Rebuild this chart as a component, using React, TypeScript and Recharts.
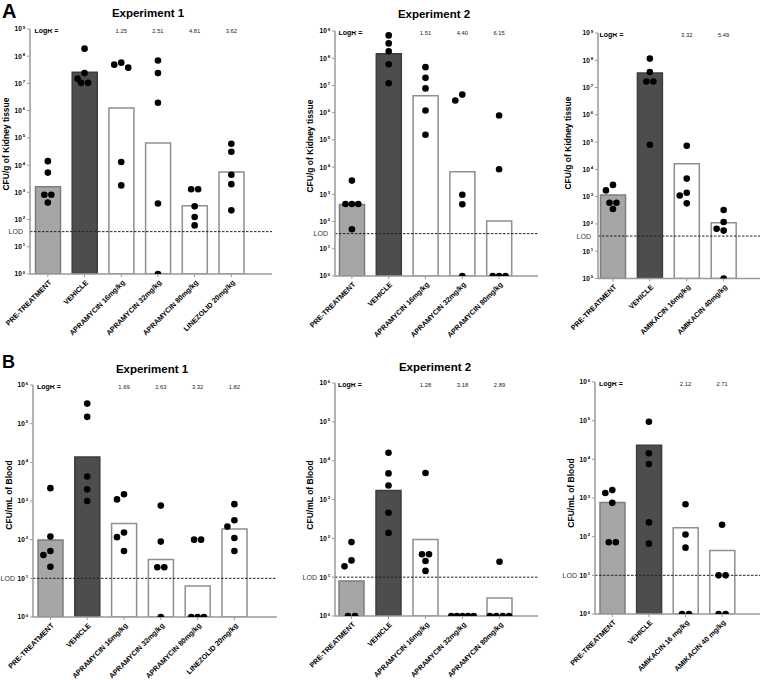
import React from 'react';
import { ComposedChart, Bar, Scatter, XAxis, YAxis, ReferenceLine, Cell } from 'recharts';

const FONT = '"Liberation Sans", Arial, Helvetica, sans-serif';

// tick labels (powers of ten)
const kidneyTicks = [1, 10, 100, 1e3, 1e4, 1e5, 1e6, 1e7, 1e8, 1e9];
const bloodTicks = [1, 10, 100, 1e3, 1e4, 1e5, 1e6];
const kidneyLod = 36;
const bloodLod = 10;

// categories
const exp1Groups = ['PRE-TREATMENT', 'VEHICLE', 'APRAMYCIN 16mg/kg', 'APRAMYCIN 32mg/kg', 'APRAMYCIN 80mg/kg', 'LINEZOLID 20mg/kg'];
const exp2Groups = ['PRE-TREATMENT', 'VEHICLE', 'APRAMYCIN 16mg/kg', 'APRAMYCIN 32mg/kg', 'APRAMYCIN 80mg/kg'];
const amiKidneyGroups = ['PRE-TREATMENT', 'VEHICLE', 'AMIKACIN 16mg/kg', 'AMIKACIN 40mg/kg'];
const amiBloodGroups = ['PRE-TREATMENT', 'VEHICLE', 'AMIKACIN 16 mg/kg', 'AMIKACIN 40 mg/kg'];

// A - kidney, experiment 1
const kidney1Bars = [1.6e3, 2.6e7, 1.25e6, 6.5e4, 3.2e2, 5.6e3];
const kidney1Points = [
  [1.4e4, 5.3e3, 820, 820, 420],
  [1.9e8, 2.4e7, 1.5e7, 1.05e7, 1.05e7],
  [5.8e7, 4.9e7, 3.8e7, 1.3e4, 1.8e3],
  [7e7, 2.4e7, 1.95e6, 390, 1],
  [1.3e3, 1.3e3, 305, 124, 61],
  [6.1e4, 3.1e4, 4.4e3, 2e3, 218],
];
const kidney1LogR = ['', '', '1.25', '2.51', '4.81', '3.62'];

// A - kidney, experiment 2
const kidney2Bars = [420, 1.46e8, 4.2e6, 6.8e3, 105];
const kidney2Points = [
  [3.2e3, 440, 440, 440, 52],
  [6.9e8, 3.5e8, 1.8e8, 6e7, 1.2e7],
  [4.7e7, 1.9e7, 7.8e6, 1.2e6, 1.55e5],
  [4.6e6, 2.8e6, 970, 430, 1],
  [7.9e5, 8.3e3, 1, 1, 1],
];
const kidney2LogR = ['', '', '1.51', '4.40', '6.15'];

// A - kidney, amikacin
const kidney3Bars = [1.15e3, 3.4e7, 1.6e4, 110];
const kidney3Points = [
  [2.7e3, 1.7e3, 600, 600, 355],
  [1.15e8, 3.7e7, 1.66e7, 1.66e7, 8e4],
  [7.4e4, 4.6e3, 1.4e3, 1.1e3, 570],
  [325, 118, 66, 57, 1],
];
const kidney3LogR = ['', '', '3.32', '5.49'];

// B - blood, experiment 1
const blood1Bars = [98, 1.37e4, 260, 30.6, 6.3, 190];
const blood1Points = [
  [2.15e3, 120, 51, 40, 20],
  [3.3e5, 1.5e5, 4.3e3, 2e3, 1e3],
  [1.5e3, 1.1e3, 153, 116, 51],
  [760, 89, 19.4, 19.4, 1],
  [100, 100, 1, 1, 1],
  [830, 318, 218, 110, 51],
];
const blood1LogR = ['', '', '1.69', '2.63', '3.32', '1.82'];

// B - blood, experiment 2
const blood2Bars = [8, 1.7e3, 93, null, 2.9];
const blood2Points = [
  [80, 27, 19, 1, 1],
  [1.6e4, 4.7e3, 2.3e3, 455, 138],
  [4.8e3, 39, 39, 26, 14.5],
  [1, 1, 1, 1, 1],
  [25, 1, 1, 1, 1],
];
const blood2LogR = ['', '', '1.28', '3.18', '2.89'];

// B - blood, amikacin
const blood3Bars = [765, 2.3e4, 170, 44];
const blood3Points = [
  [1.6e3, 1.35e3, 750, 72, 72],
  [9.4e4, 1.43e4, 7.6e3, 234, 66],
  [690, 114, 52, 1, 1],
  [203, 10, 10, 1, 1],
];
const blood3LogR = ['', '', '2.12', '2.71'];

type Box = {
  left: number; top: number; width: number; height: number;
  axisX: number; bandStart: number; spacing: number; axisEnd: number;
  plotTop: number; plotBottom: number; lodOffset: number;
};

// place dots of one group side by side where they would overlap
function spread(points: number[][], pxPerDecade: number, pxPerCat: number) {
  const out: { x: number; y: number }[] = [];
  points.forEach((vals, ci) => {
    const sorted = [...vals].sort((a, b) => b - a);
    const placed: { dx: number; py: number }[] = [];
    let i = 0;
    while (i < sorted.length) {
      let j = i;
      while (j + 1 < sorted.length && Math.abs(Math.log10(sorted[j + 1]) - Math.log10(sorted[i])) < 0.03) j++;
      const m = j - i + 1;
      const py = Math.log10(sorted[i]) * pxPerDecade;
      if (m > 1) {
        const gap = m <= 2 ? 7 : m <= 4 ? 6.4 : 5.6;
        for (let k = 0; k < m; k++) {
          const dx = (k - (m - 1) / 2) * gap;
          placed.push({ dx, py });
          out.push({ x: ci + dx / pxPerCat, y: sorted[i + k] });
        }
      } else {
        const tries = [0, -7, 7, -14, 14];
        let dx = 0;
        for (const t of tries) {
          if (placed.every((p) => Math.hypot(p.dx - t, p.py - py) >= 7)) { dx = t; break; }
        }
        placed.push({ dx, py });
        out.push({ x: ci + dx / pxPerCat, y: sorted[i] });
      }
      i = j + 1;
    }
  });
  return out;
}

const barFill = (i: number) => (i === 0 ? '#a6a6a6' : i === 1 ? '#4d4d4d' : '#ffffff');
const barStroke = (i: number) => (i === 0 ? '#7d7d7d' : i === 1 ? '#3c3c3c' : '#8f8f8f');

const YTick = (props: any) => {
  const { x, y, payload } = props;
  const e = Math.round(Math.log10(payload.value));
  return (
    <text x={x} y={y + 2.4} textAnchor="end" fontSize={6.5} fontWeight="bold" fill="#000" fontFamily={FONT}>
      10<tspan dx={0.8} dy={-2.8} fontSize={4.2}>{e}</tspan>
    </text>
  );
};

const XTick = (props: any) => {
  const { x, y, payload } = props;
  return (
    <g transform={`translate(${x + 4},${y + 4}) rotate(-45)`}>
      <text x={0} y={0} textAnchor="end" fontSize={7.2} fontWeight="bold" fill="#000" fontFamily={FONT}>
        {payload.value}
      </text>
    </g>
  );
};

type PanelProps = {
  groups: string[]; bars: (number | null)[]; points: number[][]; logR: string[];
  ticks: number[]; lod: number; box: Box;
};

function Panel({ groups, bars, points, logR, ticks, lod, box }: PanelProps) {
  const n = groups.length;
  const yW = 20;
  const top = ticks[ticks.length - 1];
  const margin = {
    top: box.plotTop - box.top,
    right: box.left + box.width - box.axisEnd,
    bottom: 0,
    left: box.axisX - box.left - yW,
  };
  const padding = { left: box.bandStart - box.axisX, right: box.axisEnd - box.bandStart - n * box.spacing };
  const pxPerDecade = (box.plotBottom - box.plotTop) / (ticks.length - 1);
  const data = groups.map((name, i) => ({ name, value: bars[i] }));
  const dots = spread(points, pxPerDecade, box.spacing);
  const logRRow = logR.map((text, i) => ({ x: i, y: top, text }));

  const logRShape = (p: any) => {
    const d = p.payload;
    if (d.x === 0) {
      return (
        <text x={p.cx - box.spacing / 2 + 5} y={p.cy + 3.5} fontSize={7} fontWeight="bold" fill="#000" fontFamily={FONT}>
          LogR =
        </text>
      );
    }
    return (
      <text x={p.cx} y={p.cy + 3.5} textAnchor="middle" fontSize={5.8} fill="#222" fontFamily={FONT}>
        {d.text}
      </text>
    );
  };

  return (
    <div style={{ position: 'absolute', left: box.left, top: box.top }}>
      <ComposedChart width={box.width} height={box.height} data={data} margin={margin}>
        <XAxis
          xAxisId="c" dataKey="name" type="category" interval={0}
          height={box.top + box.height - box.plotBottom} padding={padding}
          axisLine={{ stroke: '#9a9a9a', strokeWidth: 1.5 }}
          tickLine={{ stroke: '#9a9a9a' }} tickSize={3} tickMargin={2}
          tick={<XTick />}
        />
        <XAxis xAxisId="n" type="number" dataKey="x" domain={[-0.5, n - 0.5]} hide allowDataOverflow padding={padding} />
        <YAxis
          yAxisId="y" type="number" scale="log" domain={[1, top]} ticks={ticks}
          interval={0} allowDataOverflow width={yW}
          axisLine={{ stroke: '#9a9a9a', strokeWidth: 1.5 }}
          tickLine={{ stroke: '#9a9a9a' }} tickSize={3} tickMargin={2}
          tick={<YTick />}
        />
        <Bar xAxisId="c" yAxisId="y" dataKey="value" barSize={25} isAnimationActive={false} strokeWidth={1.5}>
          {data.map((d, i) => (
            <Cell key={d.name} fill={barFill(i)} stroke={barStroke(i)} />
          ))}
        </Bar>
        <ReferenceLine
          xAxisId="c" yAxisId="y" y={lod} stroke="#222" strokeWidth={1} strokeDasharray="2.5 1.5"
          label={{ value: 'LOD', position: 'left', offset: box.lodOffset, fontSize: 7, fill: '#333', fontFamily: FONT }}
        />
        <Scatter
          xAxisId="n" yAxisId="y" data={dots} dataKey="y" isAnimationActive={false}
          shape={(p: any) => <circle cx={p.cx} cy={p.cy} r={3.3} fill="#000" />}
        />
        <Scatter xAxisId="n" yAxisId="y" data={logRRow} dataKey="y" isAnimationActive={false} shape={logRShape} />
      </ComposedChart>
    </div>
  );
}

const boxes: Record<string, Box> = {
  a1: { left: 0, top: 0, width: 275, height: 340, axisX: 30, bandStart: 29.5, spacing: 36.7, axisEnd: 272, plotTop: 29, plotBottom: 274, lodOffset: 7 },
  a2: { left: 278, top: 0, width: 262, height: 340, axisX: 335, bandStart: 333.5, spacing: 36.8, axisEnd: 538, plotTop: 31, plotBottom: 276, lodOffset: 7 },
  a3: { left: 545, top: 0, width: 215, height: 340, axisX: 598, bandStart: 594.5, spacing: 36.9, axisEnd: 760, plotTop: 33, plotBottom: 278.5, lodOffset: 7 },
  b1: { left: 0, top: 335, width: 280, height: 345, axisX: 33, bandStart: 32, spacing: 36.8, axisEnd: 277, plotTop: 385, plotBottom: 617, lodOffset: 18 },
  b2: { left: 278, top: 335, width: 262, height: 345, axisX: 335, bandStart: 333, spacing: 37, axisEnd: 538, plotTop: 383, plotBottom: 616, lodOffset: 18 },
  b3: { left: 545, top: 335, width: 215, height: 345, axisX: 595, bandStart: 594, spacing: 36.6, axisEnd: 760, plotTop: 382, plotBottom: 614, lodOffset: 18 },
};

const textStyle: React.CSSProperties = { position: 'absolute', fontFamily: FONT, fontWeight: 'bold', color: '#000', whiteSpace: 'nowrap', lineHeight: 1 };

const Title = ({ x, y, children }: { x: number; y: number; children: React.ReactNode }) => (
  <div style={{ ...textStyle, left: x, top: y, fontSize: 11.5, transform: 'translate(-50%,-50%)' }}>{children}</div>
);

const YLabel = ({ x, y, children }: { x: number; y: number; children: React.ReactNode }) => (
  <div style={{ ...textStyle, left: x, top: y, fontSize: 8.5, transform: 'translate(-50%,-50%) rotate(-90deg)' }}>{children}</div>
);

export default function App() {
  return (
    <div style={{ position: 'absolute', left: 0, top: 0, width: 760, height: 680, background: '#fff', overflow: 'hidden' }}>
      <Panel groups={exp1Groups} bars={kidney1Bars} points={kidney1Points} logR={kidney1LogR} ticks={kidneyTicks} lod={kidneyLod} box={boxes.a1} />
      <Panel groups={exp2Groups} bars={kidney2Bars} points={kidney2Points} logR={kidney2LogR} ticks={kidneyTicks} lod={kidneyLod} box={boxes.a2} />
      <Panel groups={amiKidneyGroups} bars={kidney3Bars} points={kidney3Points} logR={kidney3LogR} ticks={kidneyTicks} lod={kidneyLod} box={boxes.a3} />
      <Panel groups={exp1Groups} bars={blood1Bars} points={blood1Points} logR={blood1LogR} ticks={bloodTicks} lod={bloodLod} box={boxes.b1} />
      <Panel groups={exp2Groups} bars={blood2Bars} points={blood2Points} logR={blood2LogR} ticks={bloodTicks} lod={bloodLod} box={boxes.b2} />
      <Panel groups={amiBloodGroups} bars={blood3Bars} points={blood3Points} logR={blood3LogR} ticks={bloodTicks} lod={bloodLod} box={boxes.b3} />

      <div style={{ ...textStyle, left: 2, top: 1, fontSize: 20 }}>A</div>
      <div style={{ ...textStyle, left: 2, top: 353, fontSize: 18 }}>B</div>
      <Title x={148} y={14}>Experiment 1</Title>
      <Title x={434} y={15}>Experiment 2</Title>
      <Title x={152} y={370}>Experiment 1</Title>
      <Title x={435} y={368}>Experiment 2</Title>

      <YLabel x={6} y={144}>CFU/g of Kidney tissue</YLabel>
      <YLabel x={310} y={146}>CFU/g of Kidney tissue</YLabel>
      <YLabel x={568} y={143}>CFU/g of Kidney tissue</YLabel>
      <YLabel x={9} y={495}>CFU/mL of Blood</YLabel>
      <YLabel x={310} y={495}>CFU/mL of Blood</YLabel>
      <YLabel x={571} y={493}>CFU/mL of Blood</YLabel>
    </div>
  );
}
